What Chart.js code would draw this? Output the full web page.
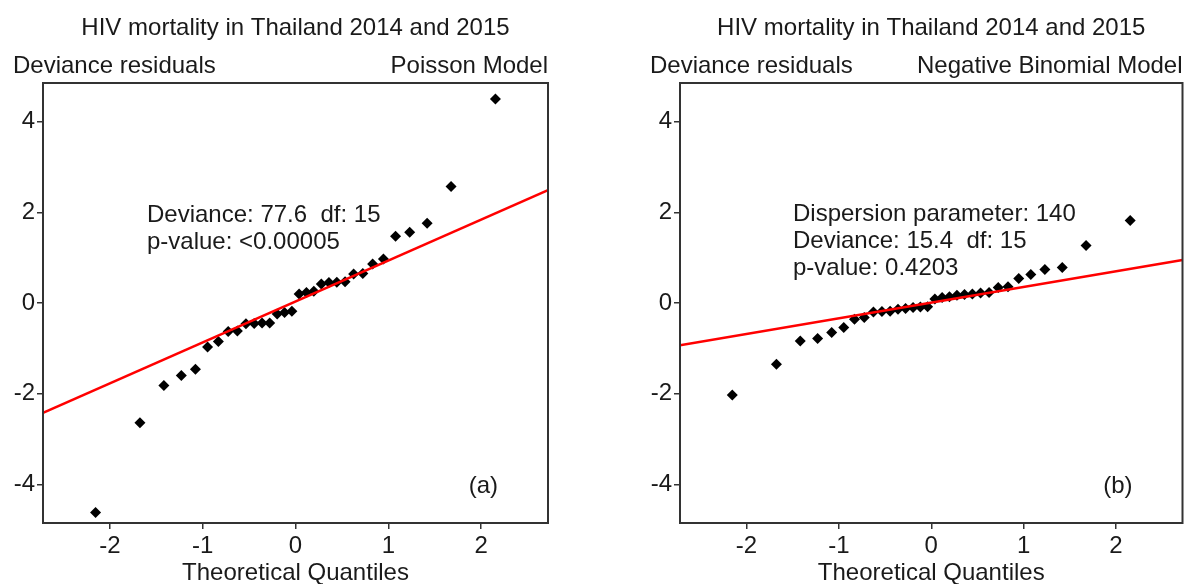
<!DOCTYPE html>
<html>
<head>
<meta charset="utf-8">
<script src="https://cdn.jsdelivr.net/npm/chart.js@4.4.1/dist/chart.umd.min.js"></script>
<style>
  html, body { margin: 0; padding: 0; background: #ffffff; }
  #wrap { width: 1188px; height: 584px; display: flex; }
  canvas { display: block; }
</style>
</head>
<body>
<div id="wrap">
  <canvas id="c1" width="594" height="584" style="width:594px;height:584px"></canvas>
  <canvas id="c2" width="594" height="584" style="width:594px;height:584px"></canvas>
</div>
<script>
// ---- data ----
const mainTitle = "HIV mortality in Thailand 2014 and 2015";
const yLabelText = "Deviance residuals";
const xLabelText = "Theoretical Quantiles";
const modelNames = ["Poisson Model", "Negative Binomial Model"];
const panelTags = ["(a)", "(b)"];
const poissonNotes = ["Deviance: 77.6  df: 15", "p-value: <0.00005"];
const nbNotes = ["Dispersion parameter: 140", "Deviance: 15.4  df: 15", "p-value: 0.4203"];

const xTickValues = [-2, -1, 0, 1, 2];
const yTickValues = [-4, -2, 0, 2, 4];

const quantiles = [-2.154, -1.676, -1.418, -1.230, -1.078, -0.947, -0.831, -0.725, -0.626, -0.534, -0.445, -0.360, -0.278, -0.197, -0.118, -0.039,
                   0.039, 0.118, 0.197, 0.278, 0.360, 0.445, 0.534, 0.626, 0.725, 0.831, 0.947, 1.078, 1.230, 1.418, 1.676, 2.154];

const poissonResiduals = [-4.62, -2.64, -1.82, -1.60, -1.46, -0.97, -0.85, -0.63, -0.62, -0.46, -0.45, -0.44, -0.44, -0.24, -0.21, -0.18,
                          0.20, 0.23, 0.26, 0.42, 0.45, 0.46, 0.47, 0.64, 0.65, 0.86, 0.97, 1.47, 1.56, 1.76, 2.57, 4.50];

const nbResiduals = [-2.03, -1.35, -0.84, -0.78, -0.65, -0.54, -0.36, -0.32, -0.20, -0.19, -0.18, -0.14, -0.12, -0.10, -0.09, -0.08,
                     0.09, 0.12, 0.14, 0.17, 0.19, 0.20, 0.22, 0.23, 0.34, 0.36, 0.54, 0.63, 0.74, 0.78, 1.27, 1.82];

const poissonLineX = [-2.72, 2.72];
const poissonLineY = [-2.42, 2.49];
const nbLineX = [-2.72, 2.72];
const nbLineY = [-0.93, 0.95];

const xRange = [-2.72, 2.72];
const yRange = [-4.85, 4.85];

// ---- styling ----
const FONT = '"Liberation Sans", Arial, sans-serif';
const TEXT_COLOR = '#1a1a1a';
const AXIS_COLOR = '#333333';

function toPoints(xs, ys) { return xs.map((x, i) => ({ x: x, y: ys[i] })); }

function makeTextPlugin(cfg) {
  return {
    id: 'panelText',
    afterDraw(chart) {
      const ctx = chart.ctx;
      const a = chart.chartArea;
      ctx.save();
      // box
      ctx.strokeStyle = AXIS_COLOR;
      ctx.lineWidth = 2;
      ctx.strokeRect(a.left, a.top, a.right - a.left, a.bottom - a.top);
      ctx.fillStyle = TEXT_COLOR;
      ctx.font = '24px ' + FONT;
      ctx.textBaseline = 'alphabetic';
      const cx = (a.left + a.right) / 2;
      ctx.textAlign = 'center';
      ctx.fillText(mainTitle, cx, 35);
      ctx.fillText(xLabelText, cx, 580);
      ctx.textAlign = 'left';
      ctx.fillText(yLabelText, a.left - 30, 73);
      ctx.textAlign = 'right';
      ctx.fillText(cfg.model, a.right, 73);
      ctx.fillText(cfg.tag, a.right - 50, 493);
      ctx.textAlign = 'left';
      cfg.notes.forEach((t, i) => ctx.fillText(t, a.left + cfg.noteDx, cfg.noteY[i]));
      ctx.restore();
    }
  };
}

function makeChart(id, pts, lineX, lineY, pad, textCfg) {
  const ctx = document.getElementById(id).getContext('2d');
  return new Chart(ctx, {
    type: 'scatter',
    data: {
      datasets: [
        {
          type: 'line',
          data: toPoints(lineX, lineY),
          borderColor: '#ff0000',
          borderWidth: 2.5,
          pointRadius: 0,
          fill: false,
          tension: 0,
          order: 0
        },
        {
          data: pts,
          pointStyle: 'rectRot',
          pointRadius: 5.5,
          pointBackgroundColor: '#000000',
          pointBorderColor: '#000000',
          pointBorderWidth: 0,
          showLine: false,
          order: 1
        }
      ]
    },
    options: {
      responsive: false,
      animation: false,
      devicePixelRatio: 1,
      layout: { padding: pad },
      plugins: { legend: { display: false }, tooltip: { enabled: false }, title: { display: false } },
      scales: {
        x: {
          type: 'linear',
          min: xRange[0], max: xRange[1],
          afterBuildTicks: s => { s.ticks = xTickValues.map(v => ({ value: v })); },
          afterFit: s => { s.height = 61; },
          grid: { drawOnChartArea: false, drawTicks: true, tickLength: 6, color: AXIS_COLOR, lineWidth: 1.5 },
          border: { display: false },
          ticks: {
            color: TEXT_COLOR, font: { family: FONT, size: 24 }, padding: 3,
            maxRotation: 0, autoSkip: false,
            callback: v => String(v)
          }
        },
        y: {
          type: 'linear',
          min: yRange[0], max: yRange[1],
          afterBuildTicks: s => { s.ticks = yTickValues.map(v => ({ value: v })); },
          afterFit: s => { s.width = 43; },
          grid: { drawOnChartArea: false, drawTicks: true, tickLength: 6, color: AXIS_COLOR, lineWidth: 1.5 },
          border: { display: false },
          ticks: {
            color: TEXT_COLOR, font: { family: FONT, size: 24 }, padding: 2,
            autoSkip: false,
            callback: v => String(v)
          }
        }
      }
    },
    plugins: [makeTextPlugin(textCfg)]
  });
}

makeChart('c1', toPoints(quantiles, poissonResiduals), poissonLineX, poissonLineY,
  { left: 0, right: 46, top: 83, bottom: 0 },
  { model: modelNames[0], tag: panelTags[0], notes: poissonNotes, noteDx: 104, noteY: [222, 249] });

makeChart('c2', toPoints(quantiles, nbResiduals), nbLineX, nbLineY,
  { left: 43, right: 2, top: 83, bottom: 0 },
  { model: modelNames[1], tag: panelTags[1], notes: nbNotes, noteDx: 113, noteY: [221, 248, 275] });
</script>
</body>
</html>
